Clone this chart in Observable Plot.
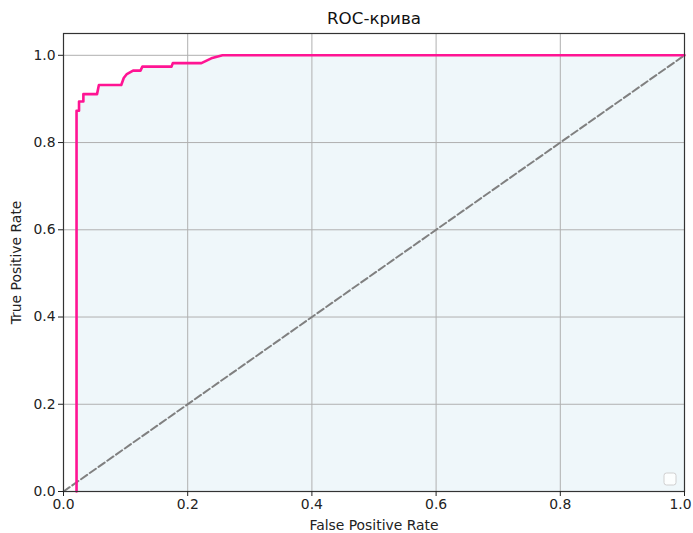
<!DOCTYPE html>
<html>
<head>
<meta charset="utf-8">
<script src="https://cdn.jsdelivr.net/npm/d3@7"></script>
<script src="https://cdn.jsdelivr.net/npm/@observablehq/plot@0.6"></script>
<style>
  html, body { margin: 0; padding: 0; background: #fff; }
  #chart { width: 693px; height: 533px; }
</style>
</head>
<body>
<div id="chart"></div>
<script>
// ROC curve points
const fpr = [0.021, 0.021, 0.025, 0.025, 0.032, 0.032, 0.054, 0.057, 0.093, 0.097, 0.102, 0.112, 0.124, 0.127, 0.174, 0.176, 0.222, 0.238, 0.256, 1.0];
const tpr = [0, 0.873, 0.873, 0.894, 0.894, 0.911, 0.911, 0.932, 0.932, 0.948, 0.957, 0.965, 0.965, 0.974, 0.974, 0.982, 0.982, 0.993, 1.0, 1.0];
// chance diagonal
const diagX = [0, 1];
const diagY = [0, 1];
const xTicks = [0, 0.2, 0.4, 0.6, 0.8, 1.0];
const yTicks = [0, 0.2, 0.4, 0.6, 0.8, 1.0];
const title = "ROC-крива";
const xLabel = "False Positive Rate";
const yLabel = "True Positive Rate";

const roc = fpr.map((x, i) => ({fpr: x, tpr: tpr[i]}));
const diag = diagX.map((x, i) => ({x, y: diagY[i]}));
const fmt = d3.format(".1f");
const lastX = xTicks[xTicks.length - 1];

const chart = Plot.plot({
  width: 693,
  height: 533,
  marginLeft: 63,
  marginRight: 9,
  marginTop: 33,
  marginBottom: 42,
  x: {domain: [0, 1]},
  y: {domain: [0, 1.05]},
  style: {fontFamily: "DejaVu Sans", fontSize: "13.9px", color: "#222", background: "#fff"},
  marks: [
    Plot.area(roc, {x1: "fpr", y1: 0, y2: "tpr", fill: "#eff7fa", curve: "linear"}),
    Plot.gridX(xTicks, {stroke: "#b0b0b0", strokeOpacity: 1, strokeWidth: 1}),
    Plot.gridY(yTicks, {stroke: "#b0b0b0", strokeOpacity: 1, strokeWidth: 1}),
    Plot.line(diag, {x: "x", y: "y", stroke: "#808080", strokeWidth: 2, strokeDasharray: "7.5,3.2"}),
    Plot.line(roc, {x: "fpr", y: "tpr", stroke: "#ff1493", strokeWidth: 2.6, curve: "linear"}),
    Plot.frame({stroke: "#333", strokeWidth: 1.2}),
    Plot.axisX({ticks: xTicks, tickFormat: d => d === lastX ? "" : fmt(d), tickSize: 5, tickPadding: 3, label: xLabel, labelAnchor: "center", labelArrow: "none", labelOffset: 38, fontSize: 13.9}),
    Plot.axisX({ticks: [lastX], tickFormat: fmt, tickSize: 0, tickPadding: 8, label: null, dx: -4, fontSize: 13.9}),
    Plot.axisY({ticks: yTicks, tickFormat: fmt, tickSize: 5, tickPadding: 3, label: yLabel, labelAnchor: "center", labelArrow: "none", labelOffset: 52, fontSize: 13.9}),
    Plot.text([title], {frameAnchor: "top", lineAnchor: "middle", dy: -15, fontSize: 16.7, fill: "#111"})
  ]
});

document.getElementById("chart").appendChild(chart);

// empty legend box (as in the reference) placed relative to the scales
const sx = chart.scale("x"), sy = chart.scale("y");
const right = sx.apply(1), bottom = sy.apply(0);
d3.select(chart).append("rect")
  .attr("x", right - 20).attr("y", bottom - 18)
  .attr("width", 12).attr("height", 12)
  .attr("rx", 2.5).attr("ry", 2.5)
  .attr("fill", "#fff").attr("fill-opacity", 0.8)
  .attr("stroke", "#d0d0d0").attr("stroke-width", 1);
</script>
</body>
</html>
